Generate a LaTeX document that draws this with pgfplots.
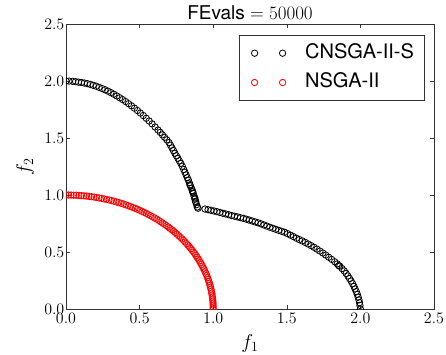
\documentclass[border=0pt]{standalone}
\usepackage{fix-cm}
\usepackage{fontspec}
\setmainfont{TeX Gyre Heros}
\usepackage{pgfplots}
\pgfplotsset{compat=1.18}
\begin{document}
\begin{tikzpicture}
\begin{axis}[
  at={(0pt,0pt)}, anchor=south west,
  scale only axis, width=368pt, height=285pt,
  xmin=0, xmax=2.5, ymin=0, ymax=2.5,
  xtick={0,0.5,1,1.5,2,2.5}, ytick={0,0.5,1,1.5,2,2.5},
  tick align=inside, tick pos=both, major tick length=4pt,
  minor tick num=0,
  axis line style={line width=0.8pt, black!80},
  every tick/.style={black!80, line width=0.6pt},
  xticklabel style={/pgf/number format/fixed,/pgf/number format/fixed zerofill,/pgf/number format/precision=1, yshift=-2pt},
  yticklabel style={/pgf/number format/fixed,/pgf/number format/fixed zerofill,/pgf/number format/precision=1},
  scaled ticks=false,
  ticklabel style={font=\fontsize{16}{19}\selectfont, inner sep=1.5pt},
  xlabel={$f_1$}, ylabel={$f_2$},
  every axis x label/.style={at={(axis description cs:0.5,0)}, anchor=center, yshift=-34pt, font=\fontsize{20}{24}\selectfont},
  every axis y label/.style={at={(axis description cs:-0.1114,0.5)}, anchor=center, rotate=90, font=\fontsize{20}{24}\selectfont},
  title={FEvals $= 50000$},
  every axis title/.style={at={(axis description cs:0.5,1)}, anchor=base, yshift=5pt, font=\fontsize{19}{22}\selectfont},
  clip marker paths=true,
  legend style={at={(axis description cs:1,1)}, anchor=north east, xshift=-9.7pt, yshift=-11pt,
    font=\fontsize{20}{24}\selectfont, draw=black!80, line width=0.8pt, inner xsep=0pt, inner ysep=7.8pt,
    row sep=9.3pt, nodes={inner sep=0pt, text height=15pt, text depth=5pt}},
  legend cell align=left,
  legend image code/.code={\path[draw=none] (-15.4pt,0pt) -- (50.6pt,0pt);\draw plot[only marks] coordinates {(0pt,0pt) (28pt,0pt)};},
]
\addplot[only marks, mark=o, black, mark size=3.2pt, mark options={line width=0.8pt}] coordinates {
(0.000,2.000) (0.020,1.999) (0.045,1.997) (0.065,1.994) (0.085,1.990) (0.105,1.987)
(0.125,1.982) (0.145,1.977) (0.165,1.970) (0.185,1.962) (0.205,1.954) (0.225,1.944)
(0.245,1.934) (0.265,1.923) (0.285,1.911) (0.305,1.898) (0.325,1.884) (0.345,1.869)
(0.365,1.853) (0.385,1.837) (0.405,1.820) (0.425,1.801) (0.445,1.782) (0.465,1.762)
(0.485,1.741) (0.505,1.719) (0.525,1.697) (0.545,1.673) (0.565,1.649) (0.585,1.624)
(0.605,1.597) (0.625,1.570) (0.640,1.549) (0.655,1.528) (0.670,1.506) (0.685,1.484)
(0.700,1.460) (0.710,1.437) (0.720,1.413) (0.730,1.390) (0.740,1.366) (0.750,1.344)
(0.760,1.322) (0.770,1.300) (0.780,1.278) (0.790,1.252) (0.800,1.224) (0.808,1.200)
(0.816,1.176) (0.824,1.152) (0.831,1.132) (0.838,1.107) (0.845,1.080) (0.852,1.060)
(0.858,1.038) (0.864,1.016) (0.870,0.990) (0.876,0.964) (0.882,0.938) (0.887,0.915)
(0.892,0.895) (0.897,0.884) (0.875,0.975) (0.880,0.945)
(0.861,1.028) (0.842,1.090)
(0.944,0.877) (0.965,0.871) (0.985,0.866) (1.005,0.860) (1.025,0.854) (1.045,0.847)
(1.065,0.840) (1.085,0.834) (1.105,0.827) (1.125,0.820) (1.145,0.814) (1.165,0.808)
(1.185,0.801) (1.205,0.795) (1.225,0.788) (1.245,0.780) (1.265,0.772) (1.285,0.764)
(1.305,0.756) (1.325,0.747) (1.345,0.737) (1.365,0.727) (1.385,0.717) (1.405,0.708)
(1.425,0.699) (1.445,0.690) (1.465,0.682) (1.485,0.673) (1.505,0.661) (1.525,0.648)
(1.545,0.635) (1.565,0.621) (1.585,0.609) (1.605,0.597) (1.625,0.584) (1.645,0.570)
(1.665,0.556) (1.685,0.541) (1.705,0.525) (1.725,0.508) (1.745,0.491) (1.765,0.473)
(1.785,0.454) (1.805,0.435) (1.825,0.415) (1.843,0.396) (1.860,0.376) (1.875,0.355)
(1.890,0.334) (1.903,0.312) (1.915,0.290) (1.926,0.268) (1.937,0.245) (1.947,0.222)
(1.956,0.199) (1.964,0.176) (1.972,0.152) (1.979,0.128) (1.985,0.104) (1.990,0.080)
(1.994,0.056) (1.997,0.032) (2.000,0.000)
(1.852,0.380)
};
\addlegendentry{CNSGA-II-S\hspace*{10pt}}
\addplot[only marks, mark=o, red, mark size=3.2pt, mark options={line width=0.8pt}] coordinates {
(1.0000,0.0000) (0.9998,0.0175) (0.9994,0.0349) (0.9986,0.0523) (0.9976,0.0698) (0.9962,0.0872)
(0.9945,0.1045) (0.9925,0.1219) (0.9903,0.1392) (0.9877,0.1564) (0.9848,0.1736) (0.9816,0.1908)
(0.9781,0.2079) (0.9744,0.2250) (0.9703,0.2419) (0.9659,0.2588) (0.9613,0.2756) (0.9563,0.2924)
(0.9511,0.3090) (0.9455,0.3256) (0.9397,0.3420) (0.9336,0.3584) (0.9272,0.3746) (0.9205,0.3907)
(0.9135,0.4067) (0.9063,0.4226) (0.8988,0.4384) (0.8910,0.4540) (0.8829,0.4695) (0.8746,0.4848)
(0.8660,0.5000) (0.8572,0.5150) (0.8480,0.5299) (0.8387,0.5446) (0.8290,0.5592) (0.8192,0.5736)
(0.8090,0.5878) (0.7986,0.6018) (0.7880,0.6157) (0.7771,0.6293) (0.7660,0.6428) (0.7547,0.6561)
(0.7431,0.6691) (0.7314,0.6820) (0.7193,0.6947) (0.7071,0.7071)
(0.6947,0.7193) (0.6820,0.7314) (0.6691,0.7431) (0.6561,0.7547) (0.6428,0.7660) (0.6293,0.7771)
(0.6157,0.7880) (0.6018,0.7986) (0.5878,0.8090) (0.5736,0.8192) (0.5592,0.8290) (0.5446,0.8387)
(0.5299,0.8480) (0.5150,0.8572) (0.5000,0.8660) (0.4848,0.8746) (0.4695,0.8829) (0.4540,0.8910)
(0.4384,0.8988) (0.4226,0.9063) (0.4067,0.9135) (0.3907,0.9205) (0.3746,0.9272) (0.3584,0.9336)
(0.3420,0.9397) (0.3256,0.9455) (0.3090,0.9511) (0.2924,0.9563) (0.2756,0.9613) (0.2588,0.9659)
(0.2419,0.9703) (0.2250,0.9744) (0.2079,0.9781) (0.1908,0.9816) (0.1736,0.9848) (0.1564,0.9877)
(0.1392,0.9903) (0.1219,0.9925) (0.1045,0.9945) (0.0872,0.9962) (0.0698,0.9976) (0.0523,0.9986)
(0.0349,0.9994) (0.0175,0.9998) (0.0000,1.0000)
};
\addlegendentry{NSGA-II}
\end{axis}
\pgfresetboundingbox
\path[use as bounding box] (-66pt,-45pt) rectangle (380pt,309pt);
\end{tikzpicture}
\end{document}
